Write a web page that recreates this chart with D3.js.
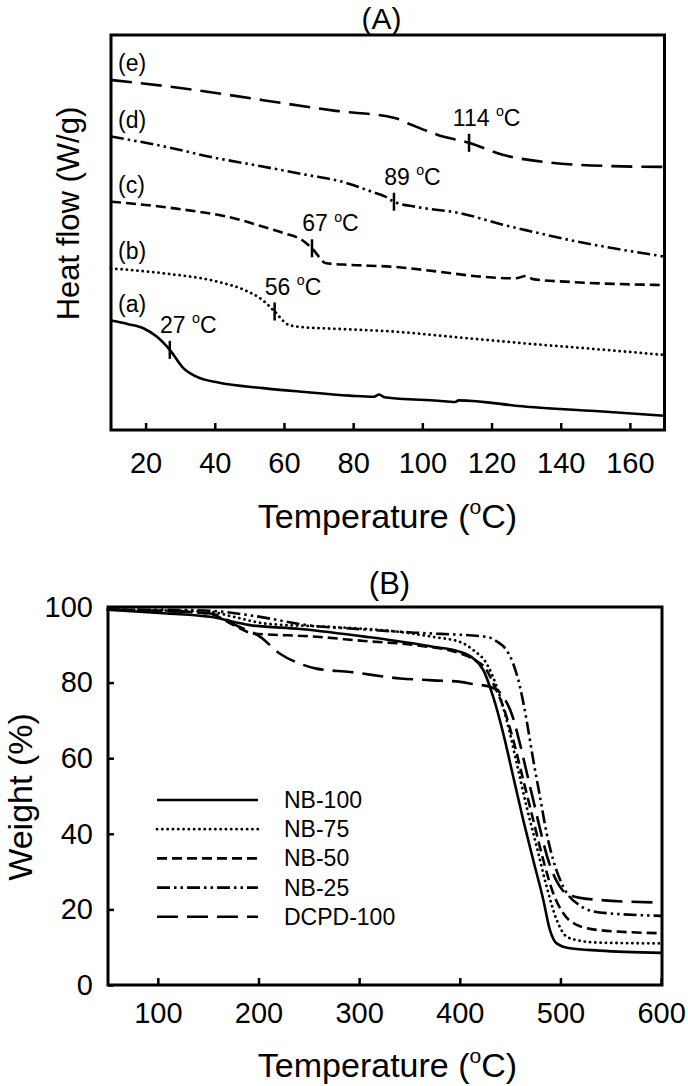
<!DOCTYPE html>
<html><head><meta charset="utf-8">
<script src="https://cdn.jsdelivr.net/npm/d3@7"></script>
<style>
body{margin:0;background:#fff}
svg{display:block}
text{font-family:"Liberation Sans",Arial,sans-serif;fill:#000}
</style>
</head><body>
<svg id="c" width="688" height="1086"></svg>
<script>
// ---------- Panel A: DSC (heat flow, arbitrary offset units) ----------
const dscLabels = ["(a)", "(b)", "(c)", "(d)", "(e)"];
const dscXTicks = [20, 40, 60, 80, 100, 120, 140, 160];

const dscTemp_a = [10, 15, 19.5, 23.3, 27, 31, 34.7, 41, 54, 65, 79, 86, 87.5, 89, 104.5, 109.5, 110.5, 130, 150, 170];
const dscFlow_a = [2.77, 2.68, 2.57, 2.36, 2.03, 1.56, 1.35, 1.20, 1.06, 0.97, 0.87, 0.84, 0.90, 0.83, 0.74, 0.71, 0.75, 0.59, 0.48, 0.36];

const dscTemp_b = [10, 25, 41, 48.7, 53.8, 57.3, 61.4, 66, 72.8, 92, 110, 130, 150, 170];
const dscFlow_b = [4.09, 3.97, 3.75, 3.54, 3.29, 3.00, 2.66, 2.60, 2.57, 2.49, 2.35, 2.19, 2.05, 1.90];

const dscTemp_c = [10, 28.4, 47.4, 53.8, 60.1, 65.2, 68.1, 72.2, 79.2, 91.8, 104.5, 117.2, 127, 129.9, 132, 142.6, 170];
const dscFlow_c = [5.78, 5.61, 5.32, 5.15, 4.98, 4.81, 4.60, 4.22, 4.18, 4.13, 4.01, 3.88, 3.84, 3.90, 3.82, 3.75, 3.67];

const dscTemp_d = [10, 25.8, 38.5, 53.8, 66.5, 76.6, 85.5, 89.3, 91.8, 98.2, 110.9, 123.6, 129.9, 142.6, 155.3, 170];
const dscFlow_d = [7.43, 7.17, 6.92, 6.67, 6.46, 6.29, 6.03, 5.91, 5.78, 5.65, 5.49, 5.19, 5.06, 4.81, 4.60, 4.39];

const dscTemp_e = [10, 30, 54, 75, 92, 97, 104.5, 113.5, 123.5, 136, 155, 170];
const dscFlow_e = [8.86, 8.66, 8.35, 8.08, 7.90, 7.72, 7.47, 7.27, 6.96, 6.78, 6.68, 6.66];

const tgMarkTemp = [27, 57.3, 68.1, 91.8, 113.5];
const tgText = ["27", "56", "67", "89", "114"];

// ---------- Panel B: TGA ----------
const tgaNames = ["NB-100", "NB-75", "NB-50", "NB-25", "DCPD-100"];
const tgaXTicks = [100, 200, 300, 400, 500, 600];
const tgaYTicks = [0, 20, 40, 60, 80, 100];

const tgaTemp_NB100 = [50, 109.3, 151.9, 191.5, 241.3, 307.3, 373.3, 400.7, 413.4, 423.4, 433.2, 443.2, 453.1, 463.1, 473.0, 483.0, 489.6, 496.2, 509.4, 538.8, 600];
const tgaWeight_NB100 = [99.3, 98.3, 97.4, 95.2, 94.2, 92.1, 89.5, 88.1, 86.4, 83.3, 76.2, 66.5, 55.1, 43.6, 33.0, 22.5, 14.5, 11.0, 9.7, 9.1, 8.5];

const tgaTemp_NB75 = [50, 102.2, 151.9, 175.3, 207.8, 274.8, 340.8, 373.3, 400.7, 413.4, 426.7, 436.7, 446.6, 456.6, 466.4, 476.4, 486.3, 496.3, 506.2, 519.5, 538.8, 600];
const tgaWeight_NB75 = [99.3, 99.1, 98.7, 97.4, 95.6, 94.7, 93.4, 92.1, 90.7, 88.6, 85.0, 78.9, 70.0, 58.6, 47.1, 36.6, 26.0, 17.2, 12.8, 11.7, 11.2, 11.0];

const tgaTemp_NB50 = [50, 122.5, 151.9, 175.3, 194.6, 254.5, 305.3, 356.0, 400.7, 414.9, 426.7, 433.2, 443.2, 453.1, 463.1, 473.0, 483.0, 492.9, 502.8, 516.1, 538.8, 600];
const tgaWeight_NB50 = [99.3, 98.8, 98.2, 95.2, 93.0, 92.2, 91.0, 89.9, 87.7, 86.0, 83.3, 79.8, 73.6, 64.8, 54.2, 43.6, 33.0, 24.2, 19.0, 15.9, 14.5, 13.7];

const tgaTemp_NB25 = [50, 122.5, 151.9, 191.5, 254.5, 291.1, 356.0, 427.1, 437.3, 446.4, 453.1, 459.8, 466.4, 473.0, 479.7, 486.3, 492.9, 502.8, 519.4, 538.8, 600];
const tgaWeight_NB25 = [99.3, 99.2, 99.0, 97.8, 95.0, 94.3, 93.2, 92.1, 90.8, 88.6, 85.0, 78.9, 70.0, 59.5, 49.8, 40.1, 33.0, 26.0, 21.0, 19.2, 18.3];

const tgaTemp_DCPD = [50, 151.9, 181.4, 201.7, 221.0, 241.3, 257.5, 291.1, 340.8, 373.3, 400.7, 413.4, 430.2, 443.4, 452.5, 459.6, 466.7, 473.8, 480.9, 487.9, 495.2, 502.3, 512.4, 538.8, 600];
const tgaWeight_DCPD = [99.3, 98.3, 94.7, 92.1, 87.7, 85.0, 83.7, 82.8, 81.1, 80.6, 80.2, 79.6, 78.9, 76.2, 71, 64, 56, 48, 40, 33, 28, 25, 23.5, 22.5, 21.8];

// ---------- drawing ----------
const svg = d3.select("#c");
const dashes = [null, "0.1,5.2", "10,5", "13,4,2.5,4,2.5,4", "21,9"];
const caps = ["butt", "round", "butt", "butt", "butt"];
const FS_TICK = 29, FS_XTITLE = 34, FS_ANN = 23;

function interp(xs, ys, t) {
  for (let i = 1; i < xs.length; i++) {
    if (t <= xs[i]) { const f = (t - xs[i-1]) / (xs[i] - xs[i-1]); return ys[i-1] + f * (ys[i] - ys[i-1]); }
  }
  return ys[ys.length - 1];
}
function addDeg(sel, before, after, fs) {
  sel.append("tspan").text(before);
  sel.append("tspan").attr("font-size", fs * 0.62).attr("dy", -fs * 0.42).text("o");
  sel.append("tspan").attr("dy", fs * 0.42).text(after);
}

// ===== Panel A =====
const xA = d3.scaleLinear().domain([10, 170]).range([111, 664.5]);
const yA = d3.scaleLinear().domain([0, 10]).range([430, 35]);
const dscT = [dscTemp_a, dscTemp_b, dscTemp_c, dscTemp_d, dscTemp_e];
const dscF = [dscFlow_a, dscFlow_b, dscFlow_c, dscFlow_d, dscFlow_e];

const gA = svg.append("g");
const lineA = d3.line().x(d => xA(d[0])).y(d => yA(d[1])).curve(d3.curveMonotoneX);
dscT.forEach((ts, i) => {
  const pts = ts.map((t, j) => [t, dscF[i][j]]);
  gA.append("path").attr("d", lineA(pts)).attr("fill", "none").attr("stroke", "#000")
    .attr("stroke-width", i === 1 ? 2.8 : 2.6).attr("stroke-dasharray", dashes[i]).attr("stroke-linecap", caps[i]);
  gA.append("text").attr("x", 118).attr("y", yA(dscF[i][0]) - 9).attr("font-size", FS_ANN).text(dscLabels[i]);
  const mt = tgMarkTemp[i], mv = interp(ts, dscF[i], mt);
  const mx = xA(mt), my = yA(mv);
  gA.append("line").attr("x1", mx).attr("x2", mx).attr("y1", my - 9).attr("y2", my + 9)
    .attr("stroke", "#000").attr("stroke-width", 2.5);
  const n = tgText[i].length;
  const tx = gA.append("text").attr("x", mx + 3 - n * 0.278 * FS_ANN).attr("y", my - 17).attr("font-size", FS_ANN);
  addDeg(tx, tgText[i] + " ", "C", FS_ANN);
});

const axA = d3.axisBottom(xA).tickValues(dscXTicks).tickSizeInner(-7).tickSizeOuter(0).tickPadding(22);
const gAx = svg.append("g").attr("transform", "translate(0,430)").call(axA);
gAx.select(".domain").remove();
gAx.selectAll("line").attr("stroke", "#000").attr("stroke-width", 2.5);
gAx.selectAll("text").attr("font-size", FS_TICK).attr("font-family", null).attr("fill", "#000");
svg.append("rect").attr("x", 111).attr("y", 35).attr("width", 553.5).attr("height", 395)
  .attr("fill", "none").attr("stroke", "#000").attr("stroke-width", 3);

svg.append("text").attr("x", 381.5).attr("y", 29).attr("text-anchor", "middle").attr("font-size", 30).text("(A)");
const xtA = svg.append("text").attr("x", 387.5).attr("y", 528).attr("text-anchor", "middle").attr("font-size", FS_XTITLE);
addDeg(xtA, "Temperature (", "C)", FS_XTITLE);
svg.append("text").attr("transform", "translate(79,213.5) rotate(-90)").attr("text-anchor", "middle")
  .attr("font-size", 31).text("Heat flow (W/g)");

// ===== Panel B =====
const xB = d3.scaleLinear().domain([50, 600]).range([107.5, 661.1]);
const yB = d3.scaleLinear().domain([0, 100]).range([985, 607]);
const tgaT = [tgaTemp_NB100, tgaTemp_NB75, tgaTemp_NB50, tgaTemp_NB25, tgaTemp_DCPD];
const tgaW = [tgaWeight_NB100, tgaWeight_NB75, tgaWeight_NB50, tgaWeight_NB25, tgaWeight_DCPD];
const gB = svg.append("g");
const lineB = d3.line().x(d => xB(d[0])).y(d => yB(d[1])).curve(d3.curveMonotoneX);
tgaT.forEach((ts, i) => {
  const pts = ts.map((t, j) => [t, tgaW[i][j]]);
  gB.append("path").attr("d", lineB(pts)).attr("fill", "none").attr("stroke", "#000")
    .attr("stroke-width", i === 1 ? 2.8 : 2.6).attr("stroke-dasharray", dashes[i]).attr("stroke-linecap", caps[i]);
});
tgaNames.forEach((nm, i) => {
  const cy = 800 + i * 29.2;
  gB.append("line").attr("x1", 157).attr("x2", 258).attr("y1", cy).attr("y2", cy)
    .attr("stroke", "#000").attr("stroke-width", i === 1 ? 2.8 : 2.6)
    .attr("stroke-dasharray", dashes[i]).attr("stroke-linecap", caps[i]);
  gB.append("text").attr("x", 284).attr("y", cy + 8).attr("font-size", FS_ANN).text(nm);
});

const axBx = d3.axisBottom(xB).tickValues(tgaXTicks).tickSizeInner(-7).tickSizeOuter(0).tickPadding(17);
const gBx = svg.append("g").attr("transform", "translate(0,985)").call(axBx);
gBx.select(".domain").remove();
const axBy = d3.axisLeft(yB).tickValues(tgaYTicks).tickSizeInner(-6).tickSizeOuter(0).tickPadding(15);
const gBy = svg.append("g").attr("transform", "translate(108,0)").call(axBy);
gBy.select(".domain").remove();
[gBx, gBy].forEach(g => {
  g.selectAll("line").attr("stroke", "#000").attr("stroke-width", 2.5);
  g.selectAll("text").attr("font-size", FS_TICK).attr("font-family", null).attr("fill", "#000");
});
svg.append("rect").attr("x", 108).attr("y", 607).attr("width", 554).attr("height", 378)
  .attr("fill", "none").attr("stroke", "#000").attr("stroke-width", 3);

svg.append("text").attr("x", 389.5).attr("y", 594).attr("text-anchor", "middle").attr("font-size", 31).text("(B)");
const xtB = svg.append("text").attr("x", 387.5).attr("y", 1077).attr("text-anchor", "middle").attr("font-size", FS_XTITLE);
addDeg(xtB, "Temperature (", "C)", FS_XTITLE);
svg.append("text").attr("transform", "translate(32,797) rotate(-90)").attr("text-anchor", "middle")
  .attr("font-size", 34).text("Weight (%)");
</script>
</body></html>
